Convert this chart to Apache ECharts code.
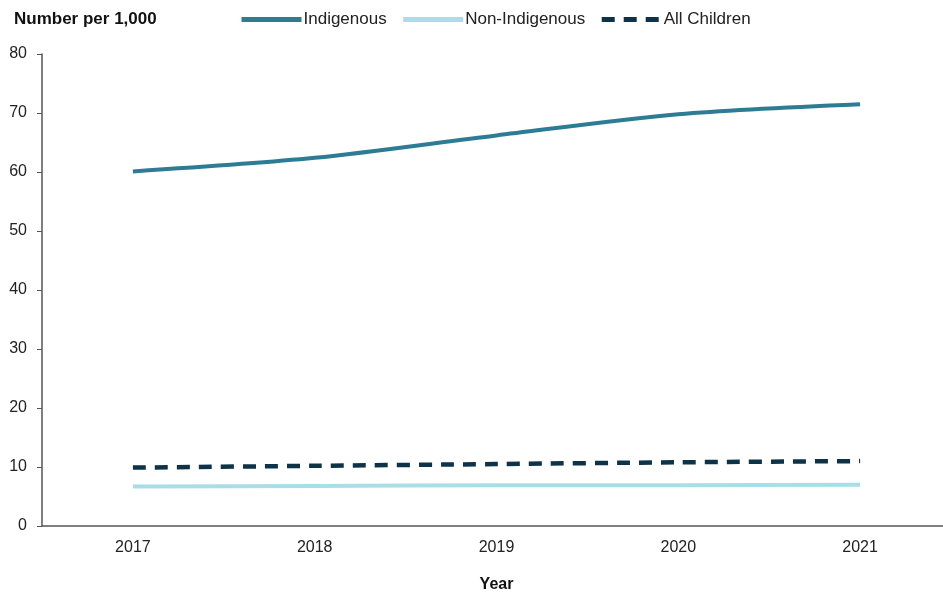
<!DOCTYPE html>
<html><head><meta charset="utf-8">
<script src="https://cdn.jsdelivr.net/npm/echarts@6/dist/echarts.min.js"></script>
<style>html,body{margin:0;padding:0;background:#fff;overflow:hidden}#c{width:952px;height:598px}</style>
</head><body><div id="c"></div>
<script>
const years = ['2017','2018','2019','2020','2021'];
const indigenous = [60.1, 62.4, 66.2, 69.8, 71.5];
const nonIndigenous = [6.7, 6.8, 6.9, 6.9, 7.0];
const allChildren = [9.9, 10.2, 10.5, 10.8, 11.0];
const yTicks = [0,10,20,30,40,50,60,70,80];

const chart = echarts.init(document.getElementById('c'));
const font = "'Liberation Sans', Arial, sans-serif";
chart.setOption({
  animation:false,
  textStyle:{fontFamily:font},
  title:{text:'Number per 1,000',left:14,top:11,padding:0,textStyle:{fontSize:17,fontWeight:'bold',color:'#111',fontFamily:font}},
  legend:{top:11,left:239,padding:0,itemWidth:60,itemHeight:10,itemGap:14,
    itemStyle:{opacity:0},
    lineStyle:{width:5},
    textStyle:{fontSize:17,color:'#222',fontFamily:font,padding:[0,0,0,-3]},
    data:['Indigenous','Non-Indigenous','All Children']},
  grid:{left:42,right:1,top:54,height:474,containLabel:false},
  xAxis:{type:'category',data:years,boundaryGap:true,
    name:'Year',nameLocation:'middle',nameGap:51,
    nameTextStyle:{fontSize:16,fontWeight:'bold',color:'#111',fontFamily:font},
    axisLine:{lineStyle:{color:'#555',width:1.5}},
    axisTick:{alignWithLabel:true,length:5,lineStyle:{color:'#555'}},
    axisLabel:{fontSize:16,color:'#222',margin:14,fontFamily:font}},
  yAxis:{type:'value',min:yTicks[0],max:yTicks[yTicks.length-1],interval:10,
    axisLine:{show:true,lineStyle:{color:'#555',width:1.5}},
    axisTick:{show:true,length:5,lineStyle:{color:'#555'}},
    splitLine:{show:false},
    axisLabel:{fontSize:16,color:'#222',margin:15,fontFamily:font}},
  series:[
    {name:'Indigenous',type:'line',data:indigenous,symbol:'none',smooth:0.3,
      lineStyle:{color:'#2E7C94',width:4},itemStyle:{color:'#2E7C94'}},
    {name:'Non-Indigenous',type:'line',data:nonIndigenous,symbol:'none',smooth:0.3,
      lineStyle:{color:'#A9DEE8',width:4},itemStyle:{color:'#A9DEE8'}},
    {name:'All Children',type:'line',data:allChildren,symbol:'none',smooth:0.3,
      lineStyle:{color:'#0E3247',width:4.5,type:[13,9]},itemStyle:{color:'#0E3247'}}
  ]
});
</script></body></html>
